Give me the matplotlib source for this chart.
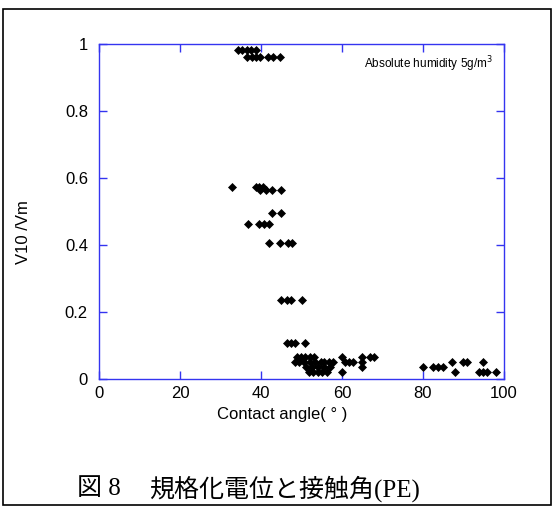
import matplotlib.pyplot as plt
from matplotlib.patches import Rectangle
from matplotlib.ticker import FormatStrFormatter

# contact angle (deg) and normalised potential V10/Vm
angle = [34.4, 35.4, 36.5, 37.5, 38.7,
         36.6, 37.7, 38.7, 39.8, 41.8, 42.9, 44.8,
         32.8, 38.8, 39.6, 40.4,
         39.8, 41.2, 42.6, 44.9,
         42.8, 44.9,
         36.9, 39.6, 40.8, 42.0,
         42.0, 44.7, 46.6, 47.6,
         45.0, 46.5, 47.5, 50.0,
         46.3, 47.3, 48.4, 50.9,
         48.9, 49.9, 50.9, 52.0, 53.0, 59.9, 64.9, 66.9, 67.9,
         48.5, 49.5, 50.5, 52.2, 53.4, 54.7, 55.6, 56.7, 57.9, 60.7, 61.8, 62.8, 64.9, 87.1, 89.8, 90.8, 94.9,
         51.0, 52.5, 54.0, 55.5, 57.0, 64.9, 80.1, 82.5, 83.8, 85.0,
         51.8, 52.8, 54.0, 55.0, 56.2, 59.9, 87.9, 93.9, 94.9, 95.7, 98.0]
v_ratio = [0.983] * 5 + [0.962] * 7 + [0.572] * 4 + [0.564] * 4 + [0.496] * 2 \
    + [0.464] * 4 + [0.405] * 4 + [0.236] * 4 + [0.107] * 4 \
    + [0.067] * 9 + [0.050] * 17 + [0.037] * 10 + [0.020] * 11

xticks = [0, 20, 40, 60, 80, 100]
yticks = [0, 0.2, 0.4, 0.6, 0.8, 1]

sans = 'Liberation Sans'
spine_col = '#3434f0'

fig = plt.figure(figsize=(5.55, 5.07), dpi=100)
ax = fig.add_axes([99 / 555, 1 - 379 / 507, 405 / 555, 335 / 507])

ax.plot(angle, v_ratio, linestyle='none', marker='D', markersize=3.6,
        color='black', markeredgewidth=0.5)

ax.set_xlim(0, 100)
ax.set_ylim(0, 1)
ax.set_xticks(xticks)
ax.set_yticks(yticks)
ax.yaxis.set_major_formatter(FormatStrFormatter('%g'))
ax.tick_params(direction='in', length=6, width=1, color=spine_col,
               top=True, right=True, labelsize=12)
ax.tick_params(axis='x', pad=5)
ax.tick_params(axis='y', pad=8)
for lab in ax.get_xticklabels() + ax.get_yticklabels():
    lab.set_fontfamily(sans)
for s in ax.spines.values():
    s.set_color(spine_col)
    s.set_linewidth(1)

ax.text(493 / 555, 1 - 64 / 507, 'Absolute humidity 5g/m$^3$', transform=fig.transFigure,
        ha='right', va='center', fontsize=8.5, family=sans)

fig.text(282 / 555, 1 - 415 / 507, 'Contact angle( ° )', ha='center', va='center',
         fontsize=12, family=sans)
fig.text(24 / 555, 1 - 232 / 507, 'V10 /Vm', rotation=90, ha='center', va='center',
         fontsize=12, family=sans)

cap_font = ['Liberation Serif', 'Noto Sans CJK JP']
fig.text(77 / 555, 1 - 489 / 507, '図 8', ha='left', va='center', fontsize=18, family=cap_font)
fig.text(149 / 555, 1 - 489 / 507, '規格化電位と接触角(PE)', ha='left', va='center',
         fontsize=18, family=cap_font)

fig.patches.append(Rectangle((3 / 555, 2 / 507), 548 / 555, 496 / 507, transform=fig.transFigure,
                             fill=False, edgecolor='black', linewidth=1.2))

fig.savefig('out.png', dpi=100)
